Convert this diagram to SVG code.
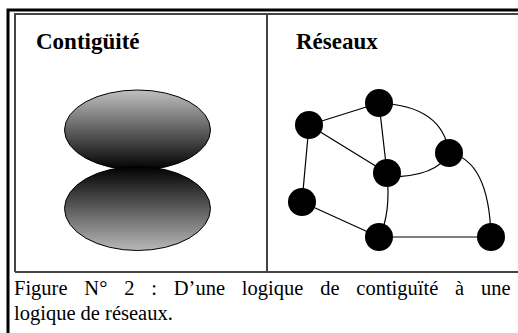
<svg xmlns="http://www.w3.org/2000/svg" width="518" height="333" viewBox="0 0 518 333">
<style>
.title{font-family:"Liberation Serif","Times New Roman",serif;font-weight:bold;font-size:23px;fill:#000}
.cap{font-family:"Liberation Serif","Times New Roman",serif;font-size:20.5px;fill:#000}
.frame{stroke:#444;stroke-width:2;fill:none}
.edge{stroke:#000;stroke-width:1.2;fill:none}
.node{fill:#000}
</style>
<defs>
<linearGradient id="gTop" x1="0" y1="0" x2="0" y2="1">
<stop offset="0" stop-color="#c0c0c0"/>
<stop offset="1" stop-color="#000"/>
</linearGradient>
<linearGradient id="gBot" x1="0" y1="0" x2="0" y2="1">
<stop offset="0" stop-color="#000"/>
<stop offset="1" stop-color="#b8b8b8"/>
</linearGradient>
</defs>
<rect width="518" height="333" fill="#fff"/>
<g id="frame">
<path d="M8,333 V10 H518" stroke="#000" stroke-width="3" fill="none"/>
<path class="frame" d="M15,272 V14 H518"/>
<path class="frame" d="M15,272 H518"/>
<path class="frame" d="M267,14 V272"/>
</g>
<g id="contiguite">
<text class="title" x="36" y="49">Contigüité</text>
<ellipse cx="137.5" cy="130" rx="73" ry="40" fill="url(#gTop)" stroke="#000" stroke-width="1"/>
<ellipse cx="137.5" cy="208.5" rx="73" ry="42" fill="url(#gBot)" stroke="#000" stroke-width="1"/>
</g>
<g id="reseaux-title"><text class="title" x="296" y="49">Réseaux</text></g>
<g id="connectors">
<line class="edge" x1="379" y1="103" x2="309" y2="125"/>
<line class="edge" x1="309" y1="125" x2="387" y2="173"/>
<line class="edge" x1="379" y1="103" x2="387" y2="173"/>
<line class="edge" x1="309" y1="125" x2="302" y2="202"/>
<line class="edge" x1="302" y1="202" x2="379" y2="237"/>
<line class="edge" x1="379" y1="237" x2="491" y2="237"/>
<path class="edge" d="M379,103 Q443,106 449,153"/>
<path class="edge" d="M387,177 Q437,177 449,153"/>
<path class="edge" d="M449,153 Q489,160 491,237"/>
<path class="edge" d="M387,173 Q391,215 379,237"/>
</g>
<g id="nodeA"><circle class="node" cx="379" cy="103" r="14"/></g>
<g id="nodeB"><circle class="node" cx="309" cy="125" r="14"/></g>
<g id="nodeC"><circle class="node" cx="449" cy="153" r="14"/></g>
<g id="nodeD"><circle class="node" cx="387" cy="173" r="14"/></g>
<g id="nodeE"><circle class="node" cx="302" cy="202" r="14"/></g>
<g id="nodeF"><circle class="node" cx="379" cy="237" r="14"/></g>
<g id="nodeG"><circle class="node" cx="491" cy="237" r="14"/></g>
<g id="caption">
<text class="cap" x="14" y="295" word-spacing="11.7">Figure N° 2 : D’une logique de contiguïté à une</text>
<text class="cap" x="14" y="320">logique de réseaux.</text>
</g>
</svg>
